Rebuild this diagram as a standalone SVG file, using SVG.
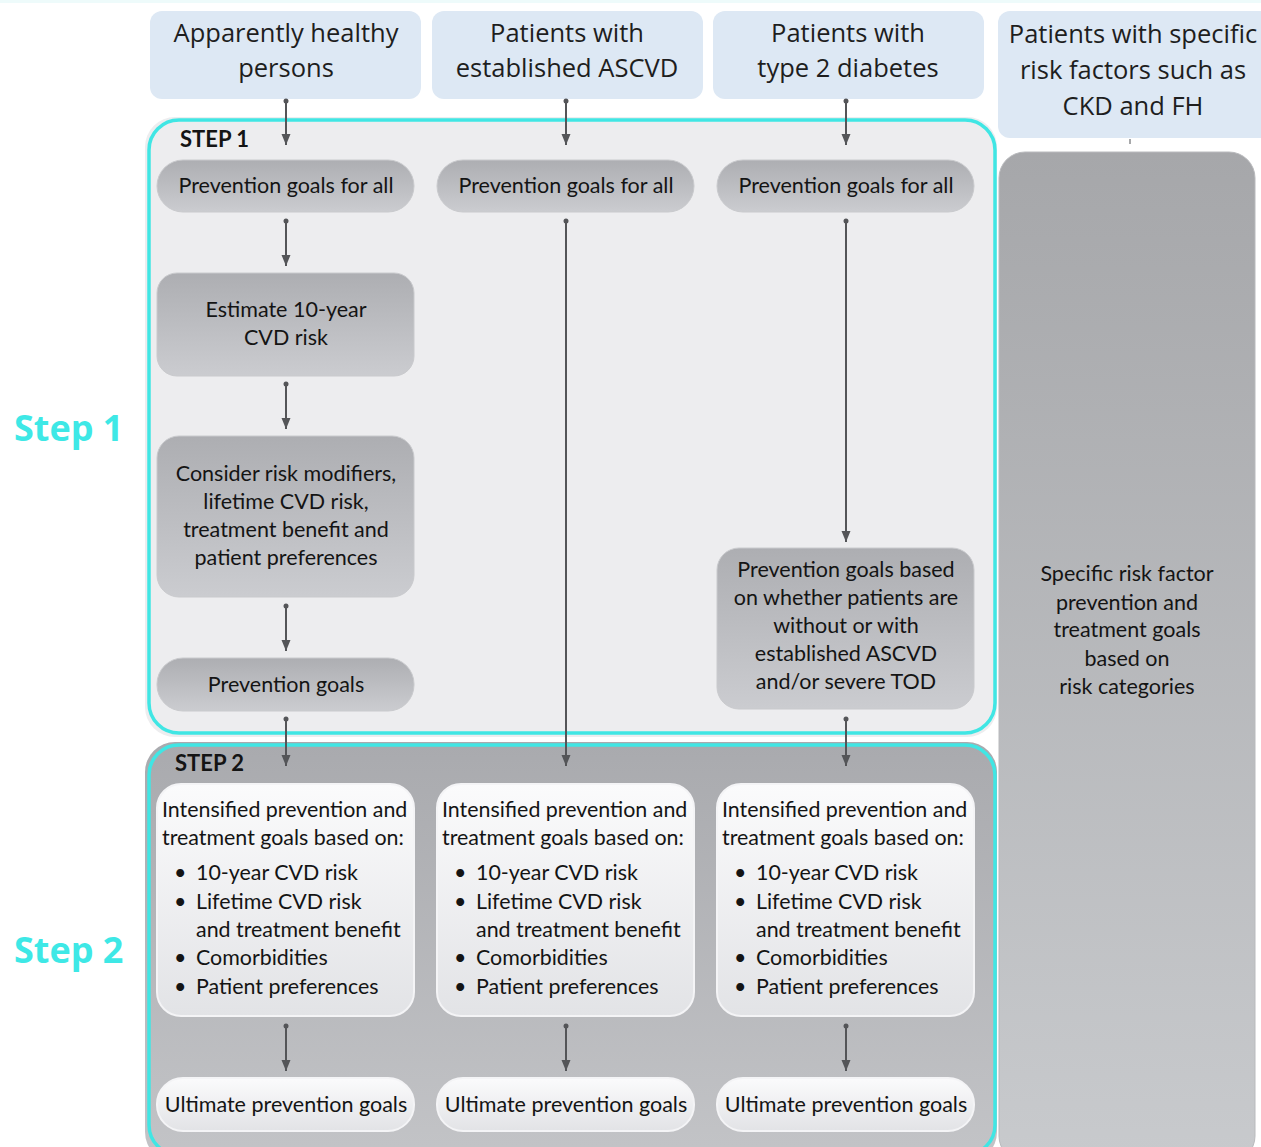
<svg xmlns="http://www.w3.org/2000/svg" width="1261" height="1147" viewBox="0 0 1261 1147">
<defs>
<style>
.hdr{fill:#dde8f4}
.htxt{font-family:"Open Sans","Noto Sans",sans-serif;font-size:25.5px;fill:#1e1e1e;text-anchor:middle}
.t{font-family:Lato,"Liberation Sans",sans-serif;font-size:21.5px;fill:#141414;text-anchor:middle}
.tl{font-family:Lato,"Liberation Sans",sans-serif;font-size:21.4px;fill:#141414}
.step{font-family:Lato,"Liberation Sans",sans-serif;font-size:22px;font-weight:bold;fill:#141414}
.big{font-family:"Open Sans","Noto Sans",sans-serif;font-size:36px;font-weight:bold;fill:#3ee8e6}
.gbox{fill:url(#gGray);stroke:#c9cacd;stroke-width:1}
.wbox{fill:url(#gWhite);stroke:#f4f4f6;stroke-width:2}
.cy{fill:none;stroke:#40e6e4;stroke-width:3.5}
.con{stroke:#545558;stroke-width:2;fill:none;marker-end:url(#ah);marker-start:url(#dot)}
</style>
<linearGradient id="gGray" x1="0" y1="0" x2="0" y2="1">
<stop offset="0" stop-color="#adaeb2"/><stop offset="1" stop-color="#cbccd0"/>
</linearGradient>
<linearGradient id="gWhite" x1="0" y1="0" x2="0" y2="1">
<stop offset="0" stop-color="#fbfbfc"/><stop offset="1" stop-color="#e2e3e6"/>
</linearGradient>
<linearGradient id="gStep2" x1="0" y1="0" x2="0" y2="1">
<stop offset="0" stop-color="#a9aaae"/><stop offset="1" stop-color="#c3c4c7"/>
</linearGradient>
<linearGradient id="gRight" x1="0" y1="0" x2="0" y2="1">
<stop offset="0" stop-color="#a6a7aa"/><stop offset="1" stop-color="#c8cacd"/>
</linearGradient>
<marker id="ah" markerUnits="userSpaceOnUse" markerWidth="12" markerHeight="12" viewBox="0 0 12 12" refX="11" refY="6" orient="auto">
<path d="M0,1.5 L11,6 L0,10.5 Z" fill="#545558"/>
</marker>
<marker id="dot" markerUnits="userSpaceOnUse" markerWidth="6" markerHeight="6" viewBox="0 0 6 6" refX="3" refY="3" orient="auto">
<circle cx="3" cy="3" r="2.5" fill="#545558"/>
</marker>
</defs>
<rect x="0" y="0" width="1261" height="1147" fill="#ffffff"/>
<rect x="0" y="0" width="1261" height="3" fill="#eefbfb"/>

<g id="headers">
<g id="h1"><rect class="hdr" x="150" y="11" width="271" height="88" rx="12"/>
<text class="htxt" x="286" y="42">Apparently healthy</text><text class="htxt" x="286" y="77">persons</text></g>
<g id="h2"><rect class="hdr" x="432" y="11" width="271" height="88" rx="12"/>
<text class="htxt" x="567" y="42">Patients with</text><text class="htxt" x="567" y="77">established ASCVD</text></g>
<g id="h3"><rect class="hdr" x="713" y="11" width="271" height="88" rx="12"/>
<text class="htxt" x="848" y="42">Patients with</text><text class="htxt" x="848" y="77">type 2 diabetes</text></g>
<g id="h4"><rect class="hdr" x="998" y="11" width="275" height="127" rx="12"/>
<text class="htxt" x="1133" y="43">Patients with specific</text><text class="htxt" x="1133" y="79">risk factors such as</text><text class="htxt" x="1133" y="115">CKD and FH</text></g>
</g>

<g id="step1">
<rect x="145" y="117" width="852" height="620" rx="30" fill="#ededef"/>
<rect class="cy" x="149" y="120" width="846" height="613" rx="30"/>
<text class="step" x="180" y="147">STEP 1</text>
</g>

<g id="step2">
<rect x="145" y="742" width="852" height="420" rx="30" fill="url(#gStep2)"/>
<rect class="cy" x="149" y="745" width="846" height="410" rx="30"/>
<text class="step" x="175" y="771">STEP 2</text>
</g>

<g id="right">
<rect x="999" y="152" width="256" height="1010" rx="26" fill="url(#gRight)" stroke="#b9babd" stroke-width="1"/>
<text class="t" x="1127" y="581">Specific risk factor</text>
<text class="t" x="1127" y="610">prevention and</text>
<text class="t" x="1127" y="637">treatment goals</text>
<text class="t" x="1127" y="666">based on</text>
<text class="t" x="1127" y="694">risk categories</text>
</g>

<g id="p1a"><rect class="gbox" x="157" y="160" width="257" height="52" rx="26"/><text class="t" x="286" y="193">Prevention goals for all</text></g>
<g id="p2a"><rect class="gbox" x="437" y="160" width="257" height="52" rx="26"/><text class="t" x="566" y="193">Prevention goals for all</text></g>
<g id="p3a"><rect class="gbox" x="717" y="160" width="257" height="52" rx="26"/><text class="t" x="846" y="193">Prevention goals for all</text></g>

<g id="estimate"><rect class="gbox" x="157" y="273" width="257" height="103" rx="20"/>
<text class="t" x="286" y="317">Estimate 10-year</text><text class="t" x="286" y="345">CVD risk</text></g>

<g id="consider"><rect class="gbox" x="157" y="436" width="257" height="161" rx="22"/>
<text class="t" x="286" y="481">Consider risk modifiers,</text>
<text class="t" x="286" y="509">lifetime CVD risk,</text>
<text class="t" x="286" y="537">treatment benefit and</text>
<text class="t" x="286" y="565">patient preferences</text></g>

<g id="pgoals"><rect class="gbox" x="157" y="658" width="257" height="53" rx="26"/><text class="t" x="286" y="692">Prevention goals</text></g>

<g id="pbased"><rect class="gbox" x="717" y="548" width="257" height="161" rx="22"/>
<text class="t" x="846" y="577">Prevention goals based</text>
<text class="t" x="846" y="605">on whether patients are</text>
<text class="t" x="846" y="633">without or with</text>
<text class="t" x="846" y="661">established ASCVD</text>
<text class="t" x="846" y="689">and/or severe TOD</text></g>

<g id="int1"><rect class="wbox" x="157" y="784" width="257" height="232" rx="24"/>
<text class="tl" x="162" y="817">Intensified prevention and</text>
<text class="tl" x="162" y="845">treatment goals based on:</text>
<text class="tl" x="174" y="880">•</text><text class="tl" x="196" y="880">10-year CVD risk</text>
<text class="tl" x="174" y="909">•</text><text class="tl" x="196" y="909">Lifetime CVD risk</text>
<text class="tl" x="196" y="937">and treatment benefit</text>
<text class="tl" x="174" y="965">•</text><text class="tl" x="196" y="965">Comorbidities</text>
<text class="tl" x="174" y="994">•</text><text class="tl" x="196" y="994">Patient preferences</text></g>

<g id="int2"><rect class="wbox" x="437" y="784" width="257" height="232" rx="24"/>
<text class="tl" x="442" y="817">Intensified prevention and</text>
<text class="tl" x="442" y="845">treatment goals based on:</text>
<text class="tl" x="454" y="880">•</text><text class="tl" x="476" y="880">10-year CVD risk</text>
<text class="tl" x="454" y="909">•</text><text class="tl" x="476" y="909">Lifetime CVD risk</text>
<text class="tl" x="476" y="937">and treatment benefit</text>
<text class="tl" x="454" y="965">•</text><text class="tl" x="476" y="965">Comorbidities</text>
<text class="tl" x="454" y="994">•</text><text class="tl" x="476" y="994">Patient preferences</text></g>

<g id="int3"><rect class="wbox" x="717" y="784" width="257" height="232" rx="24"/>
<text class="tl" x="722" y="817">Intensified prevention and</text>
<text class="tl" x="722" y="845">treatment goals based on:</text>
<text class="tl" x="734" y="880">•</text><text class="tl" x="756" y="880">10-year CVD risk</text>
<text class="tl" x="734" y="909">•</text><text class="tl" x="756" y="909">Lifetime CVD risk</text>
<text class="tl" x="756" y="937">and treatment benefit</text>
<text class="tl" x="734" y="965">•</text><text class="tl" x="756" y="965">Comorbidities</text>
<text class="tl" x="734" y="994">•</text><text class="tl" x="756" y="994">Patient preferences</text></g>

<g id="ult1"><rect class="wbox" x="157" y="1078" width="257" height="53" rx="26"/><text class="t" x="286" y="1112">Ultimate prevention goals</text></g>
<g id="ult2"><rect class="wbox" x="437" y="1078" width="257" height="53" rx="26"/><text class="t" x="566" y="1112">Ultimate prevention goals</text></g>
<g id="ult3"><rect class="wbox" x="717" y="1078" width="257" height="53" rx="26"/><text class="t" x="846" y="1112">Ultimate prevention goals</text></g>

<g id="labels">
<text class="big" x="14" y="441">Step 1</text>
<text class="big" x="14" y="963">Step 2</text>
</g>

<g id="connectors">
<line class="con" x1="286" y1="101" x2="286" y2="145"/>
<line class="con" x1="566" y1="101" x2="566" y2="145"/>
<line class="con" x1="846" y1="101" x2="846" y2="145"/>
<line x1="1130" y1="139" x2="1130" y2="144" stroke="#8a8b8e" stroke-width="1.5"/>
<line class="con" x1="286" y1="221" x2="286" y2="266"/>
<line class="con" x1="286" y1="384" x2="286" y2="429"/>
<line class="con" x1="286" y1="606" x2="286" y2="651"/>
<line class="con" x1="286" y1="719" x2="286" y2="766"/>
<line class="con" x1="566" y1="221" x2="566" y2="766"/>
<line class="con" x1="846" y1="221" x2="846" y2="542"/>
<line class="con" x1="846" y1="719" x2="846" y2="766"/>
<line class="con" x1="286" y1="1026" x2="286" y2="1071"/>
<line class="con" x1="566" y1="1026" x2="566" y2="1071"/>
<line class="con" x1="846" y1="1026" x2="846" y2="1071"/>
</g>
</svg>
